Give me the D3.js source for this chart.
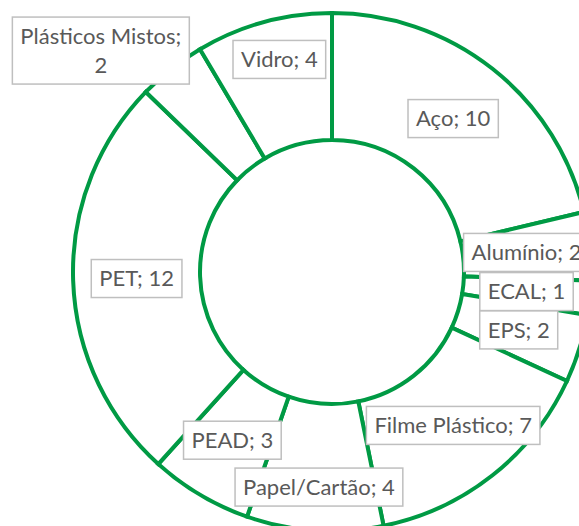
<!DOCTYPE html>
<html>
<head>
<meta charset="utf-8">
<script src="https://cdn.jsdelivr.net/npm/d3@7"></script>
<style>
  html, body { margin: 0; padding: 0; background: #fff; }
  svg { display: block; }
</style>
</head>
<body>
<div id="viz"></div>
<script>
// Donut chart: materiais recicláveis (clockwise from top)

const categories = ["Aço", "Alumínio", "ECAL", "EPS", "Filme Plástico",
                    "Papel/Cartão", "PEAD", "PET", "Plásticos Mistos", "Vidro"];
const values = [10, 2, 1, 2, 7, 4, 3, 12, 2, 4];

// label text lines (Excel wraps the long one)
const labelLines = {
    "Plásticos Mistos": ["Plásticos Mistos;", "2"]
};

// Dimensions
const dims = {
    width: 579,
    height: 526,
    cx: 332,
    cy: 272,
    outer: 259,
    inner: 132
};

// labels that Excel pushed away from the ring centre
const labelNudge = {
    "Vidro": [-1, -24],
    "Papel/Cartão": [0, 20],
    "Plásticos Mistos": [-110, -68]
};

const green = "#009a44";

const svg = d3.select("#viz")
    .append("svg")
    .attr("width", dims.width)
    .attr("height", dims.height)
    .style("background-color", "#fff");

const data = categories.map((c, i) => ({ name: c, value: values[i] }));

const pie = d3.pie()
    .sort(null)
    .value(d => d.value);

const arc = d3.arc()
    .innerRadius(dims.inner)
    .outerRadius(dims.outer);

const labelArc = d3.arc()
    .innerRadius((dims.inner + dims.outer) / 2)
    .outerRadius((dims.inner + dims.outer) / 2);

const g = svg.append("g")
    .attr("transform", `translate(${dims.cx},${dims.cy})`);

const arcs = pie(data);

g.selectAll("path.slice")
    .data(arcs)
    .enter()
    .append("path")
    .attr("class", "slice")
    .attr("d", arc)
    .attr("fill", "#fff")
    .attr("stroke", green)
    .attr("stroke-width", 4)
    .attr("stroke-linejoin", "miter");

// Labels
const fontSize = 22;
const lineH = 29;
const padX = 8;
const boxH = 38;

const labels = g.selectAll("g.label")
    .data(arcs)
    .enter()
    .append("g")
    .attr("class", "label")
    .attr("transform", d => {
        const [x, y] = labelArc.centroid(d);
        const n = labelNudge[d.data.name] || [0, 0];
        return `translate(${x + n[0]},${y + n[1]})`;
    });

labels.each(function(d) {
    const sel = d3.select(this);
    const lines = labelLines[d.data.name] || [`${d.data.name}; ${d.data.value}`];
    const rect = sel.append("rect")
        .attr("fill", "#fff")
        .attr("stroke", "#bfbfbf")
        .attr("stroke-width", 1.5);
    const text = sel.append("text")
        .attr("text-anchor", "middle")
        .attr("font-family", "Lato, 'Open Sans', sans-serif")
        .attr("font-size", fontSize)
        .attr("fill", "#595959");
    const y0 = -(lines.length - 1) * lineH / 2;
    lines.forEach((ln, i) => {
        text.append("tspan")
            .attr("x", 0)
            .attr("y", y0 + i * lineH)
            .attr("dy", "0.35em")
            .text(ln);
    });
    const w = d3.max(text.selectAll("tspan").nodes(), n => n.getComputedTextLength());
    const h = boxH + (lines.length - 1) * lineH;
    rect.attr("x", -w / 2 - padX)
        .attr("y", -h / 2)
        .attr("width", w + 2 * padX)
        .attr("height", h);
});
</script>
</body>
</html>
